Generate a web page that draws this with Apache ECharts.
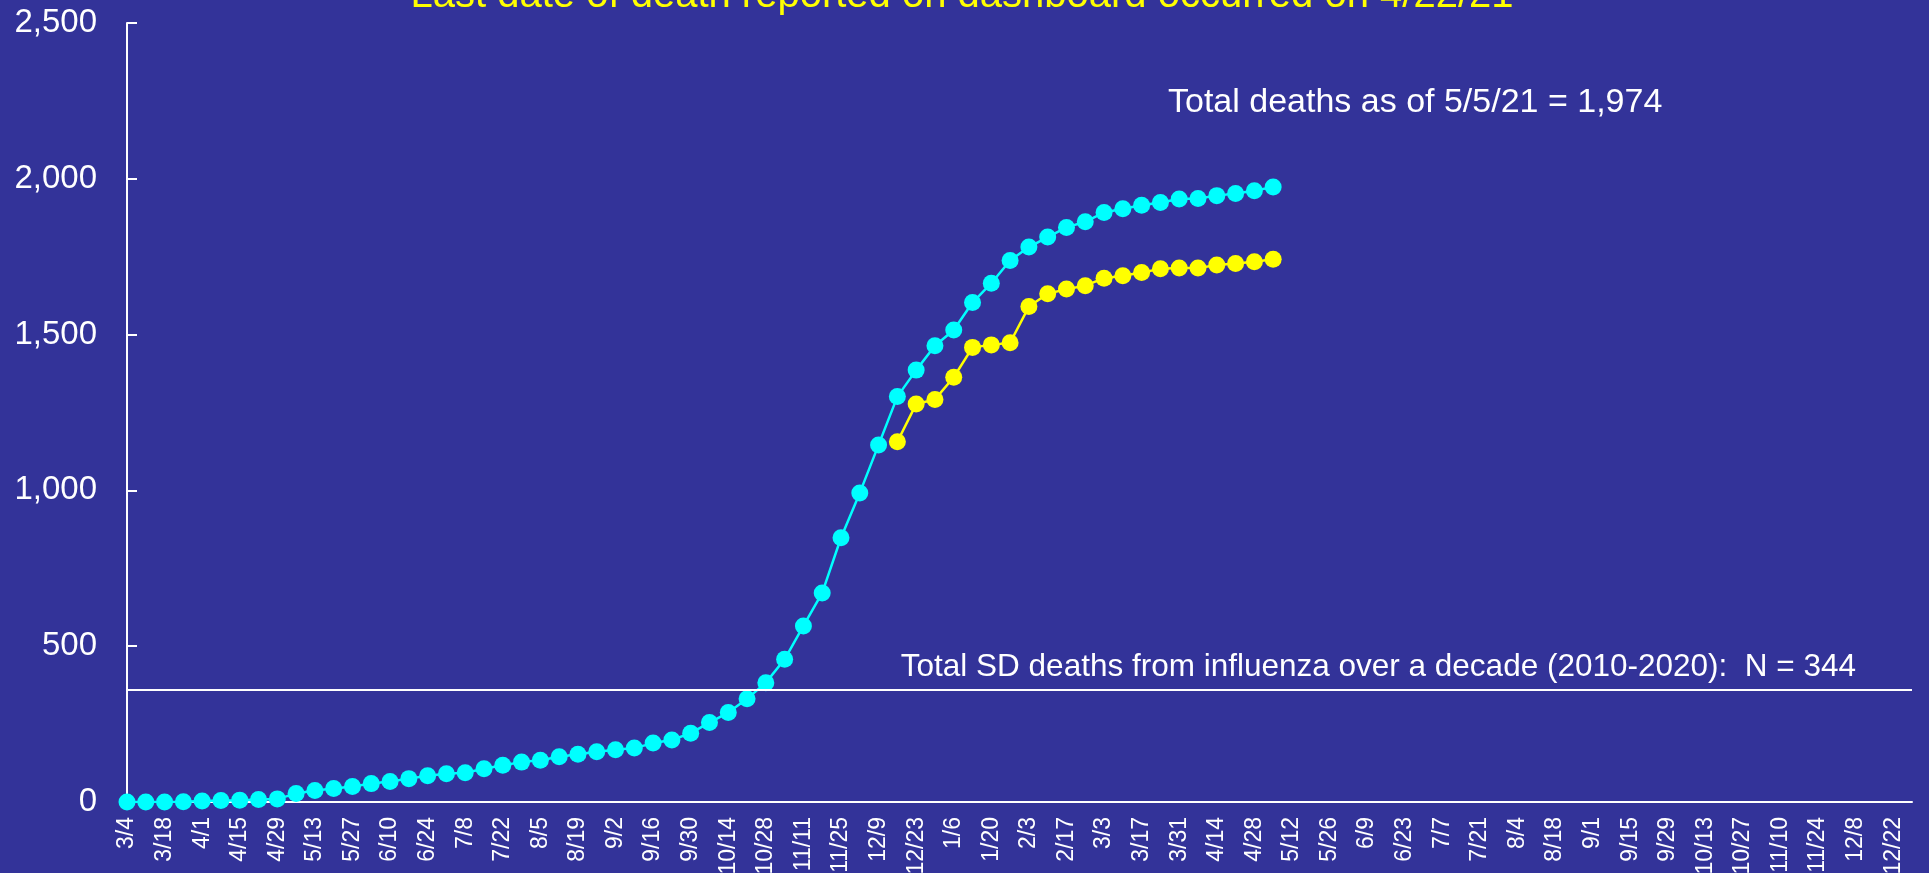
<!DOCTYPE html>
<html>
<head>
<meta charset="utf-8">
<script src="https://cdn.jsdelivr.net/npm/echarts@6/dist/echarts.min.js"></script>
<style>
  html, body { margin: 0; padding: 0; background: #333399; }
  #chart { width: 1929px; height: 873px; }
</style>
</head>
<body>
<div id="chart"></div>
<script>
// weekly dates, 3/4/2020 .. 12/29/2021
const weeks = [
  '3/4', '3/11', '3/18', '3/25', '4/1', '4/8', '4/15', '4/22', '4/29', '5/6',
  '5/13', '5/20', '5/27', '6/3', '6/10', '6/17', '6/24', '7/1', '7/8', '7/15',
  '7/22', '7/29', '8/5', '8/12', '8/19', '8/26', '9/2', '9/9', '9/16', '9/23',
  '9/30', '10/7', '10/14', '10/21', '10/28', '11/4', '11/11', '11/18', '11/25', '12/2',
  '12/9', '12/16', '12/23', '12/30', '1/6', '1/13', '1/20', '1/27', '2/3', '2/10',
  '2/17', '2/24', '3/3', '3/10', '3/17', '3/24', '3/31', '4/7', '4/14', '4/21',
  '4/28', '5/5', '5/12', '5/19', '5/26', '6/2', '6/9', '6/16', '6/23', '6/30',
  '7/7', '7/14', '7/21', '7/28', '8/4', '8/11', '8/18', '8/25', '9/1', '9/8',
  '9/15', '9/22', '9/29', '10/6', '10/13', '10/20', '10/27', '11/3', '11/10', '11/17',
  '11/24', '12/1', '12/8', '12/15', '12/22', '12/29'
];

// cumulative deaths by week (cyan)
const totalDeaths = [
  0, 0, 0, 1, 3, 5, 6, 8, 10, 27,
  37, 43, 50, 59, 66, 75, 84, 91, 94, 107,
  118, 128, 134, 145, 153, 161, 168, 173, 189, 199,
  221, 255, 287, 331, 383, 458, 565, 671, 848, 992,
  1146, 1301, 1386, 1464, 1515, 1603, 1665, 1738, 1781, 1813,
  1844, 1862, 1892, 1904, 1915, 1924, 1935, 1937, 1946, 1953,
  1962, 1974
];

// deaths by date of death from dashboard (yellow), starts at 12/16
const dashboardStart = '12/16';
const dashboardDeaths = [
  1156, 1277, 1292, 1363, 1459, 1467, 1474, 1590, 1631, 1646,
  1657, 1681, 1689, 1699, 1711, 1714, 1714, 1723, 1728, 1734,
  1742
];

const fluDecadeLevel = 360;

const titleText = 'Last date of death reported on dashboard occurred on 4/22/21';
const totalText = 'Total deaths as of 5/5/21 = 1,974';
const fluText = 'Total SD deaths from influenza over a decade (2010-2020):  N = 344';

const fontFam = '"Liberation Sans", Arial, sans-serif';

const startIdx = weeks.indexOf(dashboardStart);
const dashboardSeries = weeks.map((w, i) => {
  const k = i - startIdx;
  return (k >= 0 && k < dashboardDeaths.length) ? dashboardDeaths[k] : '-';
});

const myChart = echarts.init(document.getElementById('chart'), null, { renderer: 'canvas' });

const option = {
  backgroundColor: '#333399',
  animation: false,
  grid: {
    left: 127,
    right: 17,
    top: 23,
    bottom: 71,
    containLabel: false,
    outerBoundsMode: 'none'
  },
  xAxis: {
    type: 'category',
    boundaryGap: false,
    data: weeks,
    axisLine: { lineStyle: { color: '#ffffff', width: 2 } },
    axisTick: { show: false },
    axisLabel: {
      interval: 1,
      rotate: 90,
      margin: 15,
      color: '#ffffff',
      fontSize: 23,
      fontFamily: fontFam
    },
    splitLine: { show: false }
  },
  yAxis: {
    type: 'value',
    min: 0,
    max: 2500,
    interval: 500,
    axisLine: { show: true, lineStyle: { color: '#ffffff', width: 2 } },
    axisTick: { show: true, inside: true, length: 10, lineStyle: { color: '#ffffff', width: 2 } },
    axisLabel: {
      margin: 30,
      color: '#ffffff',
      fontSize: 33,
      fontFamily: fontFam,
      formatter: v => v.toLocaleString('en-US')
    },
    splitLine: { show: false }
  },
  series: [
    {
      name: 'Total deaths',
      type: 'line',
      data: totalDeaths,
      symbol: 'circle',
      symbolSize: 17,
      showAllSymbol: true,
      color: '#00FFFF',
      lineStyle: { color: '#00FFFF', width: 2.5 },
      itemStyle: { color: '#00FFFF' },
      markLine: {
        silent: true,
        symbol: 'none',
        label: { show: false },
        lineStyle: { color: '#ffffff', width: 2, type: 'solid' },
        data: [{ yAxis: fluDecadeLevel }]
      }
    },
    {
      name: 'Dashboard',
      type: 'line',
      data: dashboardSeries,
      symbol: 'circle',
      symbolSize: 17,
      showAllSymbol: true,
      color: '#FFFF00',
      lineStyle: { color: '#FFFF00', width: 2.5 },
      itemStyle: { color: '#FFFF00' }
    }
  ],
  graphic: [
    {
      type: 'text',
      x: 962,
      y: -4,
      style: {
        text: titleText,
        fill: '#FFFF00',
        fontSize: 40,
        fontFamily: fontFam,
        align: 'center',
        verticalAlign: 'middle',
        textAlign: 'center',
        textVerticalAlign: 'middle'
      }
    },
    {
      type: 'text',
      x: 1168,
      y: 103,
      style: {
        text: totalText,
        fill: '#ffffff',
        fontSize: 34,
        fontFamily: fontFam,
        align: 'left',
        verticalAlign: 'middle',
        textAlign: 'left',
        textVerticalAlign: 'middle'
      }
    },
    {
      type: 'text',
      x: 1856,
      y: 667,
      style: {
        text: fluText,
        fill: '#ffffff',
        fontSize: 31.5,
        fontFamily: fontFam,
        align: 'right',
        verticalAlign: 'middle',
        textAlign: 'right',
        textVerticalAlign: 'middle'
      }
    }
  ]
};

option && myChart.setOption(option);
</script>
</body>
</html>
